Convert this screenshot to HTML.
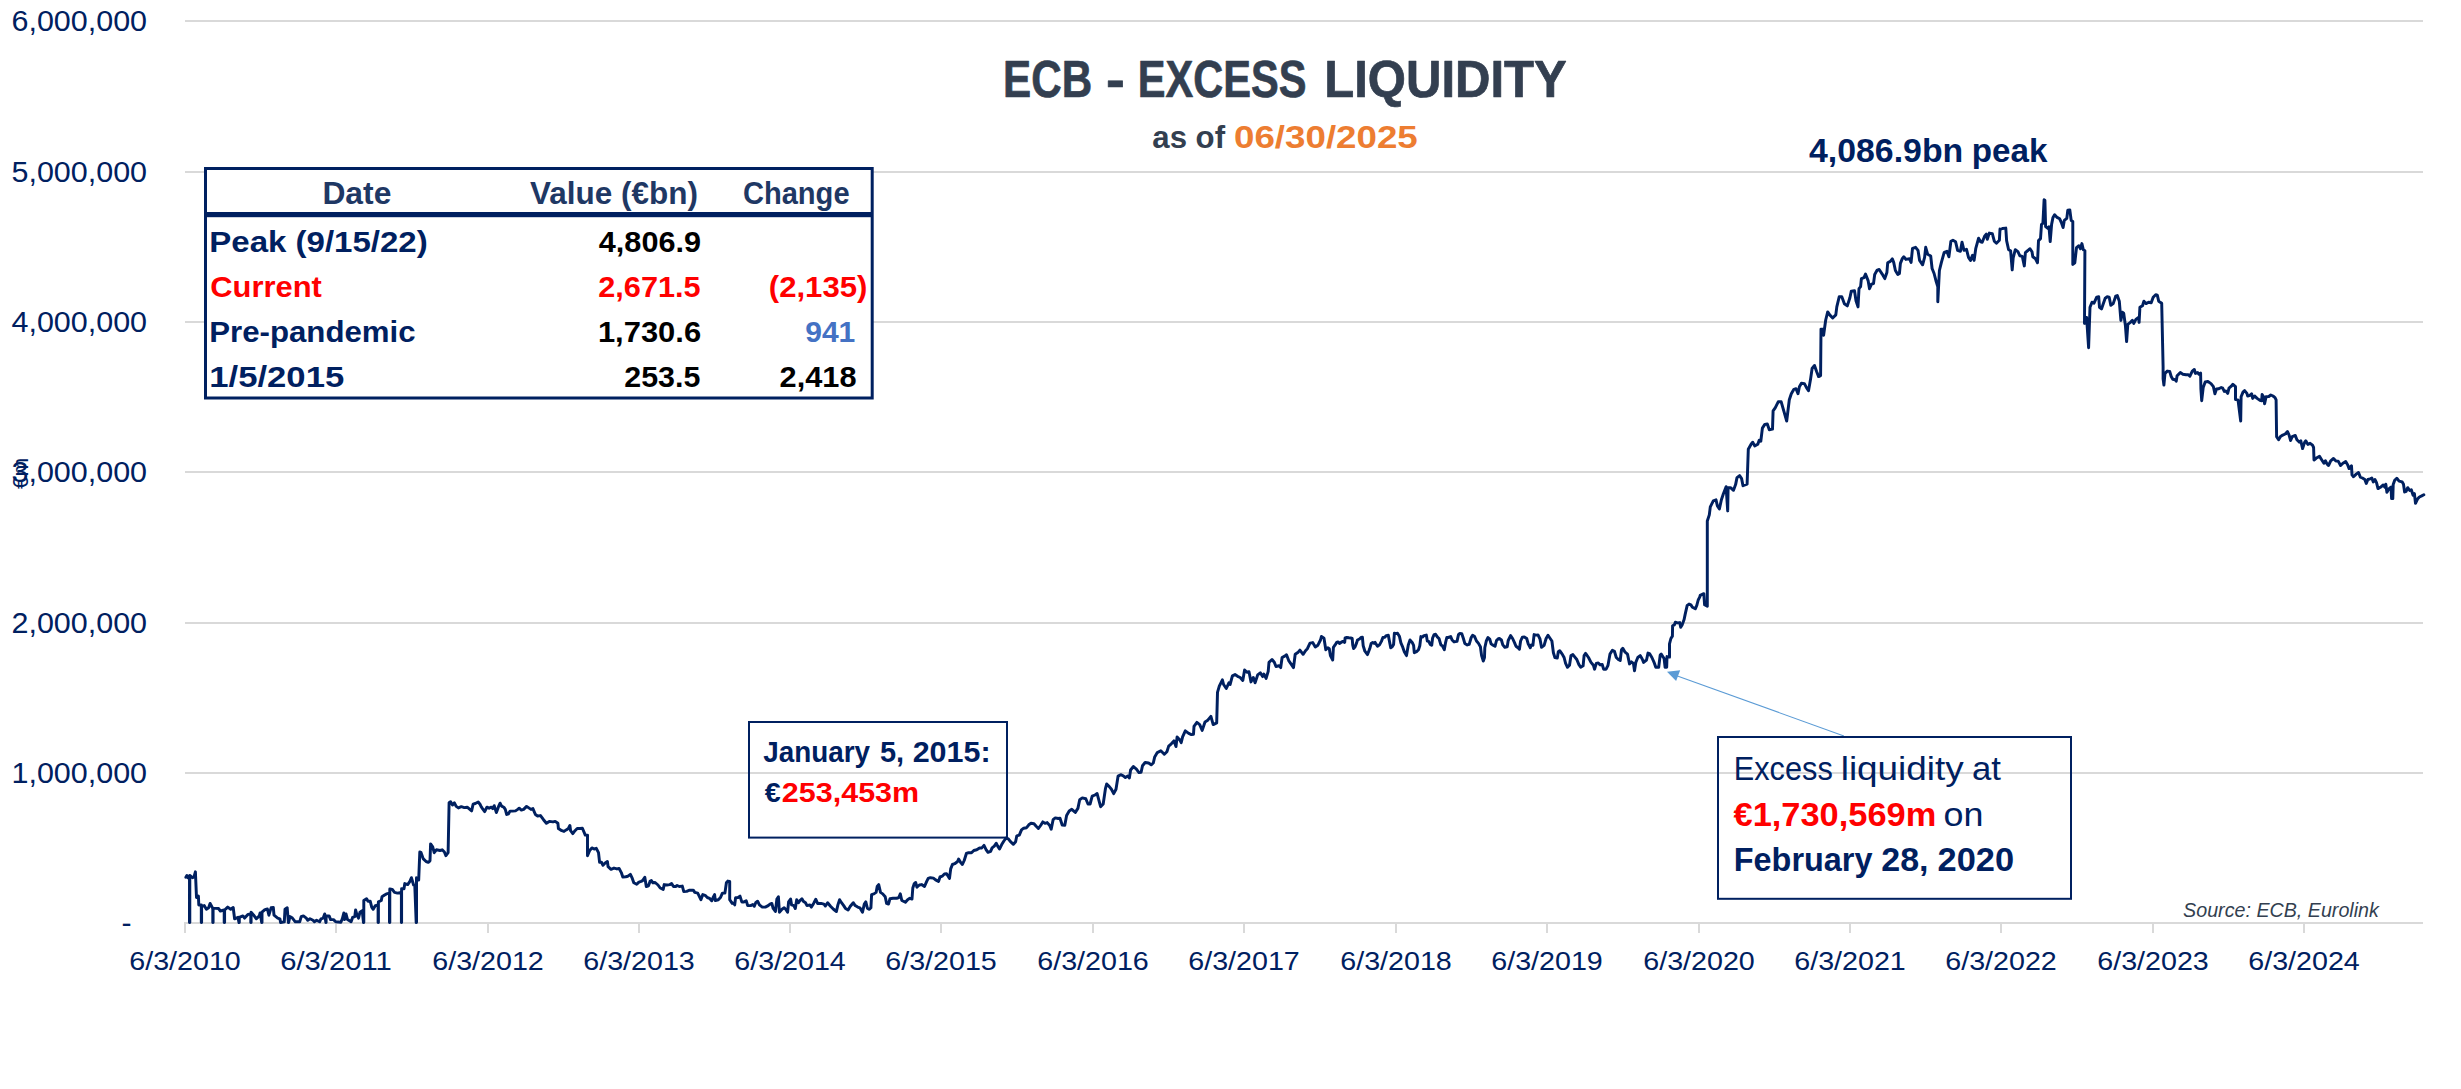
<!DOCTYPE html>
<html lang="en">
<head>
<meta charset="utf-8">
<title>ECB - Excess Liquidity</title>
<style>
html,body{margin:0;padding:0;background:#fff;}
body{width:2461px;height:1089px;overflow:hidden;}
svg{display:block;}
text{font-family:"Liberation Sans",sans-serif;}
</style>
</head>
<body>
<svg width="2461" height="1089" viewBox="0 0 2461 1089">
<rect x="0" y="0" width="2461" height="1089" fill="#ffffff"/>
<g id="grid" fill="#d9d9d9" shape-rendering="crispEdges">
<rect x="185" y="20" width="2238" height="2"/>
<rect x="185" y="171" width="2238" height="2"/>
<rect x="185" y="321" width="2238" height="2"/>
<rect x="185" y="471" width="2238" height="2"/>
<rect x="185" y="622" width="2238" height="2"/>
<rect x="185" y="772" width="2238" height="2"/>
<rect x="185" y="922" width="2238" height="2"/>
<rect x="184" y="922" width="2" height="11"/>
<rect x="335" y="922" width="2" height="11"/>
<rect x="487" y="922" width="2" height="11"/>
<rect x="638" y="922" width="2" height="11"/>
<rect x="789" y="922" width="2" height="11"/>
<rect x="940" y="922" width="2" height="11"/>
<rect x="1092" y="922" width="2" height="11"/>
<rect x="1243" y="922" width="2" height="11"/>
<rect x="1395" y="922" width="2" height="11"/>
<rect x="1546" y="922" width="2" height="11"/>
<rect x="1698" y="922" width="2" height="11"/>
<rect x="1849" y="922" width="2" height="11"/>
<rect x="2000" y="922" width="2" height="11"/>
<rect x="2152" y="922" width="2" height="11"/>
<rect x="2303" y="922" width="2" height="11"/>
</g>
<g id="yaxis">
<text x="11.50" y="31.20" font-size="30.14" font-weight="normal" fill="#002060" textLength="135.55" lengthAdjust="spacingAndGlyphs">6,000,000</text>
<text x="11.50" y="182.20" font-size="30.14" font-weight="normal" fill="#002060" textLength="135.55" lengthAdjust="spacingAndGlyphs">5,000,000</text>
<text x="11.50" y="332.20" font-size="30.14" font-weight="normal" fill="#002060" textLength="135.55" lengthAdjust="spacingAndGlyphs">4,000,000</text>
<text x="11.50" y="482.20" font-size="30.14" font-weight="normal" fill="#002060" textLength="135.55" lengthAdjust="spacingAndGlyphs">3,000,000</text>
<text x="11.50" y="633.20" font-size="30.14" font-weight="normal" fill="#002060" textLength="135.55" lengthAdjust="spacingAndGlyphs">2,000,000</text>
<text x="11.50" y="783.20" font-size="30.14" font-weight="normal" fill="#002060" textLength="135.55" lengthAdjust="spacingAndGlyphs">1,000,000</text>
<text x="121.6" y="933.4" font-size="30.14" fill="#002060">-</text>
<text transform="translate(27.8,489) rotate(-90)" font-size="22.5" fill="#002060">€m</text>
</g>
<g id="xaxis">
<text x="129.25" y="969.70" font-size="25.0" font-weight="normal" fill="#002060" textLength="111.57" lengthAdjust="spacingAndGlyphs">6/3/2010</text>
<text x="280.25" y="969.70" font-size="25.0" font-weight="normal" fill="#002060" textLength="111.57" lengthAdjust="spacingAndGlyphs">6/3/2011</text>
<text x="432.25" y="969.70" font-size="25.0" font-weight="normal" fill="#002060" textLength="111.57" lengthAdjust="spacingAndGlyphs">6/3/2012</text>
<text x="583.25" y="969.70" font-size="25.0" font-weight="normal" fill="#002060" textLength="111.57" lengthAdjust="spacingAndGlyphs">6/3/2013</text>
<text x="734.25" y="969.70" font-size="25.0" font-weight="normal" fill="#002060" textLength="111.57" lengthAdjust="spacingAndGlyphs">6/3/2014</text>
<text x="885.25" y="969.70" font-size="25.0" font-weight="normal" fill="#002060" textLength="111.57" lengthAdjust="spacingAndGlyphs">6/3/2015</text>
<text x="1037.25" y="969.70" font-size="25.0" font-weight="normal" fill="#002060" textLength="111.57" lengthAdjust="spacingAndGlyphs">6/3/2016</text>
<text x="1188.25" y="969.70" font-size="25.0" font-weight="normal" fill="#002060" textLength="111.57" lengthAdjust="spacingAndGlyphs">6/3/2017</text>
<text x="1340.25" y="969.70" font-size="25.0" font-weight="normal" fill="#002060" textLength="111.57" lengthAdjust="spacingAndGlyphs">6/3/2018</text>
<text x="1491.25" y="969.70" font-size="25.0" font-weight="normal" fill="#002060" textLength="111.57" lengthAdjust="spacingAndGlyphs">6/3/2019</text>
<text x="1643.25" y="969.70" font-size="25.0" font-weight="normal" fill="#002060" textLength="111.57" lengthAdjust="spacingAndGlyphs">6/3/2020</text>
<text x="1794.25" y="969.70" font-size="25.0" font-weight="normal" fill="#002060" textLength="111.57" lengthAdjust="spacingAndGlyphs">6/3/2021</text>
<text x="1945.25" y="969.70" font-size="25.0" font-weight="normal" fill="#002060" textLength="111.57" lengthAdjust="spacingAndGlyphs">6/3/2022</text>
<text x="2097.25" y="969.70" font-size="25.0" font-weight="normal" fill="#002060" textLength="111.57" lengthAdjust="spacingAndGlyphs">6/3/2023</text>
<text x="2248.25" y="969.70" font-size="25.0" font-weight="normal" fill="#002060" textLength="111.57" lengthAdjust="spacingAndGlyphs">6/3/2024</text>
</g>
<polyline id="series" fill="none" stroke="#002060" stroke-width="2.95" stroke-linejoin="round" stroke-linecap="round" points="185.9,877.3 186.9,875.5 188.1,877.7 189.5,876.2 189.5,922.6 189.8,922.6 189.8,875.5 192.5,877.7 194.0,877.0 195.4,871.8 196.5,897.5 198.4,896.1 198.8,904.9 201.3,904.9 201.3,922.6 201.6,922.6 201.6,906.3 204.2,905.6 206.4,909.3 208.6,907.8 210.1,903.4 212.8,908.5 212.8,922.6 213.1,922.6 213.1,908.1 218.5,908.5 220.4,911.0 224.2,910.0 224.2,922.6 224.6,922.6 224.6,910.0 227.7,907.1 230.7,909.3 233.2,907.5 234.6,918.8 238.0,917.4 239.0,922.6 239.3,922.6 239.3,917.4 242.9,915.9 244.6,918.1 247.9,914.4 250.8,914.0 250.8,922.6 251.1,922.6 251.1,912.2 253.5,914.9 256.4,918.8 259.3,915.9 260.1,913.0 261.7,922.6 262.0,922.6 262.0,912.2 264.9,909.6 267.4,909.0 268.9,915.2 271.1,907.8 273.3,907.5 274.0,915.2 277.7,918.1 279.9,918.8 280.6,922.6 284.3,921.8 285.0,909.3 287.2,907.8 288.4,922.6 288.6,922.6 289.9,916.6 292.4,918.1 295.3,921.8 299.7,921.8 301.2,916.6 303.4,915.9 306.3,918.1 307.8,920.3 310.0,918.8 313.0,920.3 314.4,921.8 316.6,920.3 319.6,921.8 321.0,918.8 323.2,918.1 324.7,914.0 325.9,922.6 326.1,922.6 326.1,915.9 329.1,915.9 330.6,919.6 333.5,919.6 335.7,921.8 340.9,922.2 342.3,918.8 343.8,913.0 344.5,919.6 346.0,914.0 347.5,919.6 351.1,921.8 352.6,917.4 354.8,916.6 355.6,910.0 357.0,915.2 358.5,918.1 360.0,912.2 362.2,910.7 363.5,922.6 363.8,922.6 363.8,900.5 366.6,898.7 368.0,901.2 370.2,901.2 371.7,907.1 373.2,909.3 375.4,905.6 378.1,904.9 378.1,922.6 378.4,922.6 378.4,901.9 381.3,900.5 382.0,896.8 384.2,895.3 386.4,893.9 389.5,893.1 389.5,922.6 389.8,922.6 389.8,889.0 392.3,889.4 394.5,892.4 397.4,893.1 401.4,892.4 401.4,922.6 401.6,922.6 401.6,888.7 404.0,888.7 404.8,883.6 407.7,884.6 409.9,881.4 411.4,877.7 413.6,885.0 414.8,885.8 416.2,922.6 416.5,922.6 416.5,877.7 418.7,879.9 419.8,852.0 420.9,852.3 423.1,858.6 426.1,861.5 428.3,862.3 430.0,860.8 430.6,843.9 432.7,846.8 434.2,852.7 436.4,849.8 440.0,850.5 442.2,849.8 444.4,852.0 445.9,855.7 448.1,852.7 449.1,802.8 450.6,801.7 452.5,805.0 454.4,802.8 456.2,806.4 458.4,807.9 461.3,806.7 464.3,807.6 467.2,807.2 471.6,810.9 473.1,804.2 475.3,803.5 478.2,802.0 480.0,804.2 481.0,806.4 482.5,808.6 484.7,811.6 486.9,807.2 489.1,808.2 491.3,807.2 492.8,808.6 494.2,805.7 496.4,812.6 498.6,806.4 500.1,803.2 501.6,806.1 503.8,807.2 505.3,809.4 506.7,814.5 508.5,813.8 510.0,811.1 512.6,811.1 515.5,810.9 517.7,809.4 519.2,808.2 521.4,810.1 523.6,809.4 526.6,806.4 528.8,807.9 531.0,809.4 532.9,808.6 535.4,814.5 537.6,816.0 540.5,815.6 543.5,819.7 546.4,823.3 549.3,821.4 553.0,821.9 555.2,821.4 557.9,823.3 558.4,828.5 561.8,830.7 564.0,831.4 566.2,829.9 568.4,828.5 569.9,825.5 570.6,830.7 572.8,833.6 575.0,830.7 577.2,828.5 580.2,828.5 582.4,828.2 585.3,835.1 587.5,835.1 587.5,855.7 589.7,850.5 591.9,847.9 594.1,849.0 596.3,848.3 598.5,852.7 599.6,862.3 601.5,862.3 603.0,865.2 605.2,863.0 607.4,861.5 608.1,866.7 611.0,869.3 614.0,868.1 616.9,868.9 619.1,868.4 621.3,872.6 622.8,877.0 625.7,876.7 627.9,876.2 630.4,874.3 632.3,878.4 633.8,882.8 636.7,884.3 638.9,882.1 641.1,881.4 642.6,880.6 644.8,877.3 646.3,886.5 648.5,885.8 650.0,881.4 651.4,880.6 652.9,882.8 655.1,882.5 658.0,885.0 660.2,888.0 663.2,889.4 664.2,884.6 666.9,885.0 669.8,884.6 671.6,883.6 673.5,886.5 675.7,886.5 677.1,885.5 679.3,886.5 682.3,886.1 683.8,891.6 686.7,891.4 689.6,890.2 693.3,890.2 694.8,892.4 697.7,893.1 699.2,896.1 700.9,899.7 702.8,894.6 705.1,895.3 707.3,897.5 709.5,898.3 711.7,900.8 713.1,897.5 714.6,894.6 715.3,900.5 718.3,899.7 720.5,897.5 722.4,893.1 724.9,893.1 726.4,882.8 727.8,881.1 729.7,881.4 729.7,899.7 732.2,903.4 733.7,903.1 734.7,904.9 735.6,897.8 738.1,897.5 740.0,896.1 741.8,901.9 744.0,901.9 746.2,900.8 747.7,905.6 750.6,905.6 752.8,904.6 754.3,906.3 755.7,902.7 757.6,901.2 759.4,904.9 762.3,907.1 765.3,907.1 768.2,905.6 770.0,904.1 771.8,903.4 773.2,908.5 775.4,911.5 776.9,899.0 778.4,896.8 779.4,912.2 782.0,909.3 784.2,907.8 785.7,909.3 787.6,912.2 788.6,901.9 790.6,899.0 791.6,904.9 793.8,905.6 795.3,908.5 796.7,899.7 798.5,902.7 800.0,900.5 801.9,898.7 803.3,901.2 805.5,902.7 807.0,905.6 809.9,904.9 811.4,907.1 813.6,903.4 815.8,899.3 817.6,903.4 821.0,903.4 823.9,904.1 825.4,906.0 827.6,902.7 830.5,906.3 833.5,909.3 836.4,911.5 837.9,904.9 839.6,899.7 841.5,902.7 843.7,905.6 845.5,908.5 848.1,910.0 850.3,906.3 853.3,902.7 855.2,905.6 857.7,907.1 859.9,907.8 862.5,912.2 864.3,904.1 865.8,901.9 867.5,908.5 869.4,909.3 870.9,907.8 871.6,894.6 873.9,893.9 876.1,892.4 877.2,886.5 878.7,884.6 880.5,892.4 882.7,893.9 885.2,896.8 886.6,903.4 888.5,904.1 890.0,898.7 893.0,898.3 896.6,898.3 898.8,897.5 900.3,893.9 901.8,900.5 905.4,902.2 907.6,899.7 909.8,898.3 912.0,899.0 912.8,888.0 914.3,883.6 915.7,882.5 916.9,887.2 919.4,885.0 921.6,884.6 924.5,886.5 926.7,881.4 928.2,878.4 930.4,877.7 933.4,878.1 935.6,879.9 938.5,881.4 940.0,877.0 942.2,876.2 944.4,874.0 946.6,873.7 949.5,878.4 950.7,868.9 952.4,864.5 954.7,863.7 957.6,861.5 958.6,859.0 960.5,862.3 962.4,864.5 964.2,860.5 966.4,853.5 968.6,852.7 971.5,852.7 973.8,850.5 976.7,849.8 979.6,847.9 981.8,847.9 984.0,845.4 986.2,849.8 988.0,852.3 990.6,851.3 992.1,847.9 994.3,846.1 996.2,843.2 997.7,846.1 999.5,849.0 1001.7,844.6 1003.9,841.0 1006.1,838.0 1008.3,838.8 1010.5,841.7 1013.4,844.3 1015.6,841.7 1016.8,835.8 1019.3,835.1 1021.5,829.9 1023.7,828.2 1026.6,827.7 1028.8,824.8 1031.0,823.3 1034.0,823.8 1036.2,826.3 1038.4,828.5 1040.6,825.5 1042.8,821.9 1045.0,823.3 1047.2,822.6 1049.7,825.5 1051.2,829.2 1053.1,819.7 1055.3,817.9 1058.2,818.5 1060.0,818.2 1062.2,825.0 1064.8,825.3 1066.6,815.4 1069.2,811.0 1071.8,809.3 1075.3,812.4 1077.9,808.4 1079.7,799.7 1082.3,797.9 1085.8,798.8 1088.0,804.0 1090.1,804.0 1092.2,796.2 1095.0,795.0 1097.1,793.6 1100.6,806.7 1103.2,804.0 1105.5,788.3 1106.7,784.0 1109.3,786.6 1111.4,789.2 1113.7,793.6 1116.0,789.2 1118.1,776.1 1120.7,774.7 1123.3,775.8 1125.4,777.5 1127.7,776.1 1129.4,777.9 1130.6,770.0 1133.4,766.5 1136.4,769.1 1139.0,772.6 1141.1,772.3 1142.5,765.7 1145.1,762.5 1148.6,763.0 1151.2,764.8 1153.3,763.0 1154.7,756.9 1157.3,752.6 1160.8,750.8 1164.3,754.3 1166.9,751.7 1168.7,746.1 1171.3,743.8 1173.9,740.9 1176.0,746.5 1177.1,736.9 1180.0,740.3 1181.2,742.6 1182.6,736.9 1185.3,730.8 1188.7,733.4 1191.4,734.6 1193.5,734.2 1194.0,726.4 1196.9,722.4 1199.7,724.6 1202.2,730.4 1205.0,722.0 1207.4,720.6 1210.9,716.4 1213.2,724.6 1216.7,722.9 1217.5,692.4 1219.3,686.2 1222.4,679.8 1223.6,684.5 1226.3,688.5 1228.9,682.8 1230.1,684.5 1232.4,675.8 1235.0,674.6 1237.6,676.3 1240.2,677.5 1242.8,680.5 1244.6,670.0 1246.9,672.3 1249.0,671.8 1251.0,681.9 1253.3,677.5 1255.1,682.8 1257.7,674.9 1260.3,672.8 1262.6,676.6 1263.8,674.0 1266.1,678.4 1268.2,671.4 1269.0,662.3 1272.0,659.5 1274.3,662.3 1276.0,666.5 1279.0,665.8 1280.7,667.6 1282.1,657.5 1284.7,656.1 1286.5,654.8 1288.7,660.6 1290.8,663.6 1293.5,667.6 1295.2,654.3 1297.8,652.6 1299.9,650.1 1303.1,654.3 1305.7,650.5 1307.4,648.7 1310.0,643.1 1312.7,642.6 1315.3,647.0 1317.9,645.2 1320.5,640.0 1321.4,636.5 1324.0,638.3 1325.8,649.7 1327.8,647.8 1329.3,648.8 1330.4,655.6 1332.7,660.0 1333.4,647.3 1335.1,644.9 1336.6,642.4 1338.0,641.9 1339.5,643.4 1341.0,642.4 1342.9,641.4 1344.7,642.4 1345.1,638.0 1346.8,637.5 1348.8,637.8 1350.7,638.0 1352.2,638.5 1352.7,644.9 1353.6,648.6 1355.1,646.8 1356.6,642.9 1357.5,640.0 1359.5,639.0 1361.0,637.5 1362.4,637.3 1363.2,645.8 1364.9,651.2 1367.5,654.6 1369.7,648.8 1371.2,643.4 1372.7,642.4 1374.1,643.4 1375.1,642.4 1377.5,646.3 1379.5,644.9 1381.4,641.4 1382.9,637.5 1384.8,637.3 1386.3,635.6 1388.3,635.3 1389.2,640.0 1390.7,647.8 1392.2,646.8 1393.6,644.4 1394.4,633.2 1396.1,633.6 1397.5,633.2 1399.5,636.6 1400.9,642.9 1402.4,646.3 1404.3,651.7 1406.5,655.6 1408.3,644.9 1410.0,640.0 1412.2,642.4 1413.6,645.3 1414.3,652.7 1416.5,651.7 1418.5,649.7 1419.8,645.8 1420.9,636.6 1422.4,637.1 1423.9,635.6 1426.3,635.1 1427.3,641.0 1428.7,641.4 1430.2,644.4 1431.7,645.3 1432.6,638.0 1434.1,634.6 1435.6,634.3 1437.5,637.1 1439.0,638.5 1440.9,644.9 1442.4,645.8 1444.3,649.7 1445.5,642.9 1446.8,637.5 1448.2,637.5 1450.7,636.6 1452.1,640.0 1454.1,641.9 1457.0,641.4 1458.5,634.6 1459.9,633.4 1461.7,633.6 1463.4,638.5 1464.8,643.4 1467.3,644.9 1469.2,644.4 1471.2,637.5 1472.6,635.3 1474.6,636.6 1476.5,641.0 1478.5,643.4 1480.4,646.8 1481.6,655.6 1483.3,661.0 1484.5,657.5 1484.8,647.8 1486.3,641.0 1488.0,637.5 1489.7,639.0 1491.1,643.9 1493.1,645.3 1495.0,646.3 1496.5,640.5 1498.0,639.0 1499.4,638.5 1501.4,640.0 1502.8,644.9 1504.8,647.3 1507.2,646.8 1508.2,640.5 1509.7,637.5 1510.6,635.6 1512.6,638.5 1514.6,642.9 1516.0,646.3 1518.0,647.8 1519.4,649.2 1520.6,641.0 1522.4,637.1 1524.3,636.9 1526.7,638.5 1528.2,643.9 1530.3,647.8 1531.3,644.9 1532.9,645.3 1534.1,634.6 1536.0,635.1 1538.0,634.9 1540.0,639.0 1541.5,647.3 1544.1,645.3 1546.1,638.5 1548.0,635.3 1549.5,637.5 1551.9,641.0 1553.4,652.7 1554.9,657.5 1557.3,658.0 1558.3,651.7 1559.7,650.7 1562.2,654.1 1564.1,657.5 1565.6,663.4 1567.5,667.3 1569.5,665.3 1571.0,655.6 1572.9,654.6 1574.9,657.1 1576.8,659.5 1578.8,664.4 1580.7,667.3 1583.1,665.8 1584.1,655.6 1585.6,653.4 1588.5,657.5 1591.0,662.4 1593.4,665.3 1594.6,669.2 1596.3,663.4 1598.3,662.9 1600.2,664.9 1602.2,664.4 1603.6,669.2 1606.1,669.2 1608.0,665.3 1610.0,654.1 1612.4,650.2 1614.4,651.2 1616.3,657.5 1618.3,659.5 1620.2,660.5 1621.5,649.7 1622.8,648.3 1625.1,652.2 1627.5,654.1 1629.5,663.9 1631.4,661.9 1633.4,663.4 1634.5,670.7 1635.8,662.4 1637.8,657.5 1640.2,655.6 1642.2,659.0 1643.6,662.4 1646.5,660.0 1648.0,653.1 1649.5,653.6 1651.9,657.5 1654.3,662.9 1655.8,667.3 1658.7,667.3 1660.2,655.1 1661.2,654.1 1664.1,658.5 1665.1,667.3 1666.7,667.3 1667.0,656.6 1669.5,657.1 1669.5,643.9 1670.9,638.5 1672.4,636.1 1672.6,625.8 1674.3,624.9 1675.3,622.2 1677.3,622.9 1679.7,622.6 1680.7,627.3 1682.1,624.9 1684.1,619.5 1685.1,614.6 1686.0,610.7 1687.2,605.4 1689.0,604.1 1690.9,604.9 1692.4,607.3 1695.3,608.8 1696.8,605.4 1698.2,600.0 1699.7,597.1 1700.2,595.4 1703.8,593.7 1704.6,604.8 1707.3,606.3 1707.3,521.0 1709.3,514.9 1710.3,506.9 1713.3,500.8 1716.0,499.8 1717.4,505.9 1719.4,508.9 1721.4,499.8 1723.4,493.7 1726.1,486.7 1727.7,510.9 1728.1,487.7 1730.5,487.7 1733.5,490.3 1735.6,484.6 1737.0,477.6 1739.6,475.6 1741.6,478.6 1743.0,485.7 1747.1,484.2 1748.3,449.3 1751.1,444.2 1752.7,442.2 1754.7,445.9 1757.8,444.2 1759.2,440.2 1760.8,441.2 1762.4,428.1 1764.8,424.4 1767.3,424.0 1769.3,429.7 1772.5,429.1 1773.1,410.9 1775.2,407.9 1778.2,401.8 1781.2,401.8 1783.2,408.9 1786.7,421.0 1789.3,399.8 1791.3,393.7 1793.9,389.3 1796.0,388.7 1798.0,393.7 1799.4,386.7 1801.4,383.2 1804.4,383.6 1806.5,387.7 1808.5,390.7 1810.5,379.6 1812.1,368.5 1814.5,365.5 1816.6,371.5 1818.6,376.6 1820.6,375.6 1821.0,329.1 1822.6,329.1 1823.6,335.2 1825.7,320.0 1827.7,311.9 1829.7,314.9 1832.7,318.0 1835.8,314.9 1836.8,306.9 1839.2,296.8 1841.8,296.8 1844.4,303.8 1847.3,305.9 1849.9,297.8 1851.3,291.1 1854.5,290.7 1856.0,300.8 1858.0,306.9 1859.0,288.7 1860.6,286.7 1861.4,278.6 1864.0,277.6 1865.5,274.1 1868.1,280.6 1869.5,288.7 1871.5,284.2 1873.5,283.6 1874.7,274.5 1877.2,270.1 1879.2,269.5 1882.2,274.1 1884.8,278.6 1886.9,272.5 1887.7,262.8 1890.3,261.4 1892.3,258.8 1893.7,262.4 1895.4,270.5 1897.8,274.5 1899.4,273.5 1900.4,263.4 1902.4,258.4 1903.8,256.8 1905.9,259.4 1909.5,258.8 1911.1,262.4 1912.5,248.3 1915.6,247.3 1918.0,250.3 1919.6,260.4 1922.6,264.8 1924.6,257.4 1925.7,247.3 1927.7,254.3 1930.7,256.0 1932.1,268.5 1934.1,273.5 1936.2,281.6 1937.8,286.7 1937.8,301.8 1939.4,270.5 1941.4,262.4 1944.2,252.3 1946.9,251.3 1948.9,256.8 1950.9,241.2 1952.9,240.2 1955.6,241.8 1957.6,250.3 1960.4,251.3 1962.0,242.2 1964.0,250.3 1966.5,249.3 1968.5,257.4 1970.5,260.4 1972.5,255.4 1974.1,260.4 1975.8,248.3 1978.6,238.2 1980.6,241.8 1982.2,242.2 1984.6,236.2 1986.3,234.1 1987.3,239.2 1989.3,233.1 1992.3,233.7 1994.3,241.2 1996.4,243.2 1999.4,240.2 2000.0,229.1 2000.1,229.5 2002.5,228.5 2005.8,228.1 2006.6,240.6 2008.6,249.7 2010.6,250.7 2012.2,269.9 2013.2,257.8 2015.3,249.7 2017.9,251.7 2019.9,255.8 2022.3,256.4 2024.3,265.9 2025.4,252.7 2028.0,250.3 2030.0,248.7 2032.0,251.7 2032.8,256.8 2035.5,258.8 2037.5,262.8 2038.5,240.6 2040.5,238.6 2041.5,224.4 2042.9,223.4 2044.1,199.8 2044.9,200.2 2045.6,226.5 2048.2,228.5 2049.0,226.9 2050.2,241.6 2051.6,224.4 2053.0,217.4 2054.6,214.7 2057.1,217.4 2059.7,218.8 2061.7,223.4 2063.1,227.5 2064.3,220.4 2066.8,218.4 2067.8,210.3 2069.8,209.9 2071.2,220.4 2072.8,221.4 2072.8,264.4 2074.8,262.8 2076.5,247.7 2078.9,245.7 2080.5,248.7 2081.9,243.6 2083.3,249.7 2084.9,250.7 2084.5,323.4 2086.6,317.4 2088.6,347.7 2090.0,307.3 2092.0,302.2 2094.0,303.2 2096.7,297.2 2098.7,296.8 2099.5,307.3 2101.5,308.9 2103.1,304.2 2105.2,298.2 2107.2,296.8 2109.2,297.2 2110.8,305.3 2113.2,303.6 2115.7,296.2 2117.3,295.6 2119.3,301.2 2120.9,320.4 2122.3,312.3 2123.7,313.3 2125.4,325.5 2126.6,341.6 2127.8,324.4 2130.4,322.4 2132.4,320.4 2133.8,323.4 2135.9,319.4 2138.5,317.4 2139.1,322.4 2139.9,307.3 2142.5,305.7 2143.9,301.2 2146.0,303.6 2148.6,302.2 2151.2,302.8 2153.2,297.2 2155.7,294.7 2157.3,295.2 2158.7,301.2 2161.7,303.2 2163.1,366.4 2163.1,378.9 2163.9,385.1 2165.0,373.4 2167.3,371.1 2169.7,371.5 2171.2,376.5 2172.8,379.3 2175.1,379.7 2176.2,381.2 2177.1,375.8 2180.3,372.6 2182.9,374.2 2186.0,374.7 2188.4,374.7 2189.9,376.2 2192.3,371.1 2194.3,369.5 2195.4,373.4 2197.7,372.6 2199.0,374.2 2200.6,373.1 2200.9,389.0 2201.7,400.7 2203.2,387.5 2205.2,382.0 2207.9,381.5 2211.0,383.6 2213.4,386.7 2214.9,393.7 2216.5,389.0 2218.8,388.7 2221.2,387.5 2222.7,388.2 2224.3,391.4 2225.8,390.9 2227.7,393.4 2229.0,388.2 2231.3,386.2 2232.9,384.3 2235.5,386.7 2235.5,399.6 2238.0,399.9 2240.7,421.0 2241.1,396.8 2243.0,392.1 2244.6,390.6 2246.9,393.4 2247.7,396.0 2250.0,395.3 2251.6,393.7 2252.7,398.4 2254.7,396.0 2257.1,398.4 2259.9,400.3 2261.7,400.7 2262.1,394.5 2263.6,396.8 2264.6,403.8 2266.1,396.8 2268.8,396.5 2270.8,395.0 2273.0,396.0 2275.0,397.6 2276.1,399.9 2276.6,436.6 2278.6,439.7 2280.5,436.6 2282.8,435.1 2285.2,434.0 2287.5,431.5 2289.1,435.1 2290.6,440.5 2292.2,436.6 2295.3,435.5 2296.9,439.7 2299.2,442.1 2300.8,440.8 2302.6,448.6 2304.7,442.1 2305.8,440.8 2307.8,444.4 2310.1,443.3 2312.5,445.2 2313.6,447.5 2314.0,460.0 2316.4,458.0 2319.5,456.4 2321.8,460.0 2323.9,463.2 2325.4,460.8 2327.0,463.9 2328.5,465.5 2330.7,460.8 2333.5,458.5 2335.9,461.1 2338.2,461.1 2340.6,465.5 2342.9,463.2 2345.7,461.6 2347.6,464.7 2349.1,468.6 2351.5,465.8 2352.0,474.9 2353.5,476.7 2356.2,474.1 2358.5,472.5 2360.4,477.2 2362.4,478.0 2364.8,479.5 2366.3,483.4 2367.9,479.5 2370.2,478.8 2371.8,478.0 2373.3,481.9 2374.9,479.5 2376.5,482.7 2378.0,488.6 2380.4,487.3 2383.2,485.0 2385.0,487.3 2385.8,484.2 2386.9,492.3 2388.9,488.9 2391.0,487.0 2391.6,498.6 2392.8,498.6 2393.2,484.5 2394.7,480.3 2396.8,478.3 2399.1,481.1 2402.2,481.9 2403.5,484.2 2404.6,492.0 2406.1,491.3 2407.7,487.7 2409.7,490.5 2411.3,489.7 2413.1,495.2 2414.4,493.6 2415.5,503.3 2417.5,499.1 2419.4,497.0 2421.7,495.9 2423.8,494.8"/>
<g id="titles">
<text stroke="#333f50" stroke-width="0.7" stroke-linejoin="round" x="1003.00" y="97.40" font-size="51.01" font-weight="bold" fill="#333f50"><tspan x="1003.00" textLength="89.11" lengthAdjust="spacingAndGlyphs">ECB</tspan> <tspan x="1106.00" textLength="18.81" lengthAdjust="spacingAndGlyphs">-</tspan> <tspan x="1137.70" textLength="168.82" lengthAdjust="spacingAndGlyphs">EXCESS</tspan> <tspan x="1324.20" textLength="242.61" lengthAdjust="spacingAndGlyphs">LIQUIDITY</tspan></text>
<text x="1152.30" y="148.30" font-size="30.57" font-weight="bold" fill="#333f50" textLength="72.75" lengthAdjust="spacingAndGlyphs">as of</text>
<text x="1234.00" y="148.30" font-size="30.57" font-weight="bold" fill="#ed7d31" textLength="183.77" lengthAdjust="spacingAndGlyphs">06/30/2025</text>
<text x="1809.00" y="162.06" font-size="33.94" font-weight="bold" fill="#002060"><tspan x="1809.00" textLength="154.22" lengthAdjust="spacingAndGlyphs">4,086.9bn</tspan> <tspan x="1971.80" textLength="75.68" lengthAdjust="spacingAndGlyphs">peak</tspan></text>
</g>
<g id="table">
<rect x="205.5" y="168.5" width="666.7" height="229.5" fill="#ffffff" stroke="#002060" stroke-width="3"/>
<rect x="205" y="212" width="668" height="5.2" fill="#002060"/>
<text x="322.40" y="203.90" font-size="31.01" font-weight="bold" fill="#1f3864" textLength="68.99" lengthAdjust="spacingAndGlyphs">Date</text>
<text x="530.10" y="203.90" font-size="31.01" font-weight="bold" fill="#1f3864" textLength="167.90" lengthAdjust="spacingAndGlyphs">Value (€bn)</text>
<text x="742.90" y="203.90" font-size="31.01" font-weight="bold" fill="#1f3864" textLength="106.68" lengthAdjust="spacingAndGlyphs">Change</text>
<text x="209.25" y="251.80" font-size="30.29" font-weight="bold" fill="#002060" textLength="218.50" lengthAdjust="spacingAndGlyphs">Peak (9/15/22)</text>
<text x="210.25" y="296.80" font-size="30.29" font-weight="bold" fill="#ff0000" textLength="111.64" lengthAdjust="spacingAndGlyphs">Current</text>
<text x="209.25" y="341.80" font-size="30.29" font-weight="bold" fill="#002060" textLength="206.31" lengthAdjust="spacingAndGlyphs">Pre-pandemic</text>
<text x="209.25" y="386.80" font-size="30.29" font-weight="bold" fill="#002060" textLength="134.94" lengthAdjust="spacingAndGlyphs">1/5/2015</text>
<text x="598.80" y="251.80" font-size="30.29" font-weight="bold" fill="#000000" textLength="102.24" lengthAdjust="spacingAndGlyphs">4,806.9</text>
<text x="598.20" y="296.80" font-size="30.29" font-weight="bold" fill="#ff0000" textLength="102.46" lengthAdjust="spacingAndGlyphs">2,671.5</text>
<text x="597.90" y="341.80" font-size="30.29" font-weight="bold" fill="#000000" textLength="103.20" lengthAdjust="spacingAndGlyphs">1,730.6</text>
<text x="624.30" y="386.80" font-size="30.29" font-weight="bold" fill="#000000" textLength="76.09" lengthAdjust="spacingAndGlyphs">253.5</text>
<text x="768.80" y="296.80" font-size="30.29" font-weight="bold" fill="#ff0000" textLength="98.64" lengthAdjust="spacingAndGlyphs">(2,135)</text>
<text x="805.20" y="341.80" font-size="30.29" font-weight="bold" fill="#4472c4" textLength="50.12" lengthAdjust="spacingAndGlyphs">941</text>
<text x="779.60" y="386.80" font-size="30.29" font-weight="bold" fill="#000000" textLength="76.91" lengthAdjust="spacingAndGlyphs">2,418</text>
</g>
<g id="box1">
<rect x="749" y="722" width="258" height="115.6" fill="none" stroke="#002060" stroke-width="2"/>
<text x="763.30" y="761.70" font-size="28.7" font-weight="bold" fill="#002060"><tspan x="763.30" textLength="106.70" lengthAdjust="spacingAndGlyphs">January</tspan> <tspan x="879.90" textLength="24.17" lengthAdjust="spacingAndGlyphs">5,</tspan> <tspan x="912.70" textLength="77.88" lengthAdjust="spacingAndGlyphs">2015:</tspan></text>
<text x="764.80" y="801.50" font-size="27.86" font-weight="bold" fill="#002060" textLength="15.91" lengthAdjust="spacingAndGlyphs">€</text>
<text x="781.80" y="801.50" font-size="27.86" font-weight="bold" fill="#ff0000" textLength="137.42" lengthAdjust="spacingAndGlyphs">253,453m</text>
</g>
<g id="box2">
<line x1="1676" y1="675.4" x2="1843.9" y2="736" stroke="#5b9bd5" stroke-width="1.1"/>
<polygon points="1667,671.7 1680.2,670.2 1676.1,681" fill="#5b9bd5"/>
<rect x="1718" y="737" width="353" height="161.8" fill="none" stroke="#002060" stroke-width="2"/>
<text x="1733.80" y="780.20" font-size="33.62" font-weight="normal" fill="#002060"><tspan x="1733.80" textLength="98.95" lengthAdjust="spacingAndGlyphs">Excess</tspan> <tspan x="1840.70" textLength="123.00" lengthAdjust="spacingAndGlyphs">liquidity</tspan> <tspan x="1972.00" textLength="28.97" lengthAdjust="spacingAndGlyphs">at</tspan></text>
<text x="1733.50" y="825.50" font-size="33.62" font-weight="bold" fill="#ff0000" textLength="202.76" lengthAdjust="spacingAndGlyphs">€1,730,569m</text>
<text x="1943.60" y="825.50" font-size="33.62" font-weight="normal" fill="#002060" textLength="39.92" lengthAdjust="spacingAndGlyphs">on</text>
<text x="1733.80" y="871.40" font-size="33.62" font-weight="bold" fill="#002060"><tspan x="1733.80" textLength="138.66" lengthAdjust="spacingAndGlyphs">February</tspan> <tspan x="1881.30" textLength="47.27" lengthAdjust="spacingAndGlyphs">28,</tspan> <tspan x="1937.60" textLength="76.55" lengthAdjust="spacingAndGlyphs">2020</tspan></text>
</g>
<text x="2183.10" y="916.60" font-size="20.87" font-weight="normal" font-style="italic" fill="#333f50" textLength="195.80" lengthAdjust="spacingAndGlyphs">Source: ECB, Eurolink</text>
</svg>
</body>
</html>
